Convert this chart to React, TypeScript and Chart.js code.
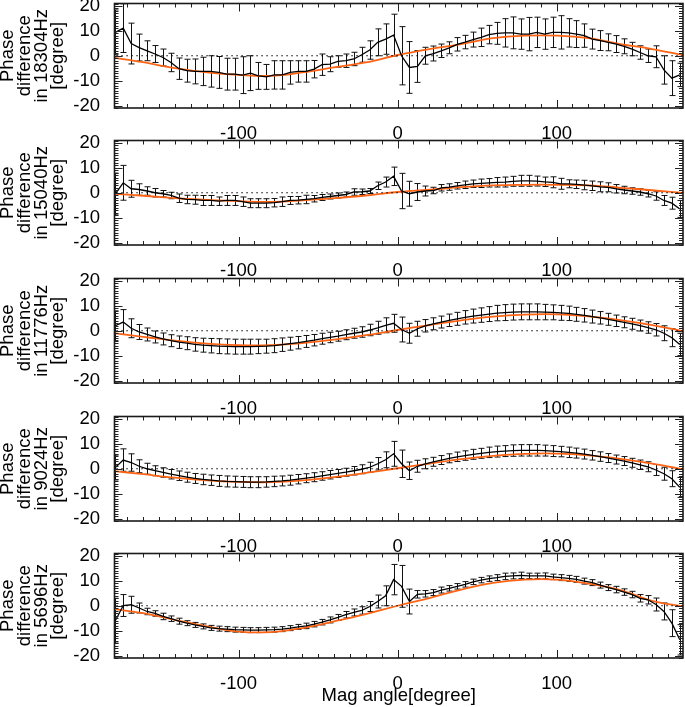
import React, { useEffect, useRef } from 'react';
import { Chart, registerables } from 'chart.js';

Chart.register(...registerables);

// ---------- data ----------
const ANGLES = [
  -177.5, -172.5, -167.5, -162.5, -157.5, -152.5, -147.5, -142.5, -137.5, -132.5, -127.5, -122.5,
  -117.5, -112.5, -107.5, -102.5, -97.5, -92.5, -87.5, -82.5, -77.5, -72.5, -67.5, -62.5,
  -57.5, -52.5, -47.5, -42.5, -37.5, -32.5, -27.5, -22.5, -17.5, -12.5, -7.5, -2.5,
  2.5, 7.5, 12.5, 17.5, 22.5, 27.5, 32.5, 37.5, 42.5, 47.5, 52.5, 57.5,
  62.5, 67.5, 72.5, 77.5, 82.5, 87.5, 92.5, 97.5, 102.5, 107.5, 112.5, 117.5,
  122.5, 127.5, 132.5, 137.5, 142.5, 147.5, 152.5, 157.5, 162.5, 167.5, 172.5, 177.5,
];
const FIT_ANGLES = [-180, -160, -140, -120, -100, -80, -60, -40, -20, 0, 20, 40, 60, 80, 100, 120, 140, 160, 180];
const X_TICKS = [-100, 0, 100];
const Y_TICKS = [-20, -10, 0, 10, 20];
const FREQUENCIES = ['18304Hz', '15040Hz', '11776Hz', '9024Hz', '5696Hz'];
const X_TITLE = 'Mag angle[degree]';
const ZERO_LINE_X = [-180, 180];
const ZERO_LINE_Y = [0, 0];

const PHASE_18304 = [
  9.4, 11.1, 4.9, 3.3, 2.0, 0.7, -0.7, -2.7, -5.2, -6.0, -6.3, -6.3,
  -6.3, -6.7, -7.4, -7.4, -7.8, -7.0, -8.1, -8.5, -7.7, -7.7, -6.7, -6.3,
  -6.3, -5.4, -3.6, -3.4, -2.3, -2.0, -1.3, 0.4, 2.3, 5.4, 6.7, 8.3,
  0.0, -4.7, -4.3, 0.0, 0.9, 2.0, 3.2, 4.6, 5.5, 6.5, 7.4, 8.5,
  9.0, 9.2, 9.2, 8.7, 8.7, 9.4, 8.7, 9.4, 9.4, 9.2, 8.7, 8.1,
  6.7, 6.1, 5.4, 4.7, 3.8, 2.7, 1.3, 0.0, -0.4, -5.7, -9.0, -7.7,
];
const ERR_18304 = [
  9.0, 9.8, 8.2, 5.4, 4.0, 3.4, 3.4, 3.7, 4.3, 4.6, 5.0, 5.7,
  6.3, 6.4, 6.4, 6.4, 7.4, 7.0, 5.4, 5.0, 5.7, 5.7, 4.7, 4.3,
  4.3, 3.5, 4.3, 3.0, 2.3, 2.7, 2.7, 3.0, 3.7, 5.4, 6.1, 8.4,
  11.7, 10.4, 6.4, 3.4, 3.0, 2.7, 2.4, 2.7, 2.7, 3.0, 3.7, 3.7,
  4.4, 5.7, 6.4, 6.1, 6.7, 6.1, 6.1, 6.1, 6.7, 5.7, 5.4, 4.7,
  4.0, 4.0, 3.4, 3.4, 3.0, 2.7, 2.7, 2.7, 4.4, 5.7, 7.0, 4.7,
];
const FIT_18304 = [-0.6, -2.6, -5.0, -6.7, -7.7, -8.1, -6.7, -4.7, -2.7, 0.3, 2.7, 4.7, 7.1, 8.1, 8.1, 7.1, 4.7, 2.7, 0.2];

const PHASE_15040 = [
  -0.5, 4.0, 1.6, 1.3, 0.7, 0.0, -0.4, -1.1, -2.2, -2.7, -2.8, -3.1,
  -3.1, -3.4, -3.1, -3.1, -3.6, -4.2, -4.2, -4.2, -4.0, -3.6, -3.1, -3.0,
  -2.7, -2.4, -1.9, -1.5, -1.1, -0.7, 0.3, 0.4, 0.7, 2.8, 4.3, 6.6,
  0.7, -0.4, 0.3, 0.7, 0.9, 2.0, 2.3, 2.8, 3.2, 3.6, 3.8, 4.0,
  4.2, 4.3, 4.6, 4.8, 4.8, 4.7, 4.4, 4.2, 3.6, 3.6, 3.4, 3.1,
  2.8, 2.4, 2.2, 1.6, 1.1, 0.7, 0.3, -0.4, -1.3, -3.1, -4.2, -6.5,
];
const ERR_15040 = [
  8.4, 7.0, 3.4, 2.3, 1.7, 1.7, 1.3, 1.3, 1.7, 1.7, 1.8, 2.0,
  2.0, 1.7, 2.0, 2.0, 1.9, 1.8, 1.8, 1.8, 1.7, 1.9, 1.6, 1.5,
  1.7, 1.3, 1.2, 1.0, 1.0, 1.0, 1.3, 1.1, 1.0, 1.5, 2.0, 3.7,
  7.1, 5.0, 3.4, 2.0, 1.3, 1.3, 1.3, 1.3, 1.5, 1.5, 1.7, 1.7,
  1.9, 2.0, 2.0, 2.2, 2.2, 2.0, 1.9, 2.2, 2.2, 1.6, 1.7, 1.9,
  1.9, 2.0, 1.8, 1.7, 1.5, 1.3, 1.3, 1.3, 1.7, 2.0, 2.4, 3.4,
];
const FIT_15040 = [-0.4, -1.2, -2.2, -2.9, -3.4, -3.7, -3.1, -2.2, -1.1, 0.3, 1.2, 2.3, 3.0, 3.2, 3.2, 3.0, 2.0, 1.0, -0.1];

const PHASE_11776 = [
  2.0, 3.5, 1.0, -0.5, -1.5, -2.5, -3.3, -4.0, -4.6, -5.0, -5.5, -5.8,
  -6.0, -6.2, -6.3, -6.4, -6.4, -6.4, -6.3, -6.2, -6.0, -5.6, -5.2, -4.8,
  -4.3, -3.8, -3.2, -2.7, -2.2, -1.6, -1.0, -0.5, 0.3, 1.2, 2.2, 3.0,
  0.5, -1.0, 0.8, 2.0, 2.8, 3.5, 4.2, 4.8, 5.4, 5.9, 6.3, 6.7,
  7.1, 7.3, 7.5, 7.6, 7.6, 7.6, 7.5, 7.4, 7.2, 7.0, 6.6, 6.2,
  5.7, 5.2, 4.6, 4.0, 3.4, 2.8, 2.1, 1.3, 0.4, -1.0, -2.8, -5.5,
];
const ERR_11776 = [
  6.0, 5.0, 3.8, 3.0, 2.6, 2.4, 2.4, 2.4, 2.5, 2.6, 2.7, 2.8,
  2.9, 3.0, 3.0, 3.0, 3.0, 3.0, 2.9, 2.8, 2.8, 2.7, 2.6, 2.5,
  2.4, 2.3, 2.2, 2.1, 2.0, 2.0, 2.0, 2.1, 2.3, 2.6, 3.0, 3.6,
  5.0, 4.0, 3.0, 2.5, 2.4, 2.4, 2.5, 2.6, 2.7, 2.8, 2.9, 3.0,
  3.1, 3.2, 3.2, 3.2, 3.2, 3.2, 3.1, 3.0, 3.0, 2.9, 2.8, 2.7,
  2.6, 2.5, 2.4, 2.3, 2.2, 2.2, 2.2, 2.3, 2.5, 3.0, 3.6, 4.5,
];
const FIT_11776 = [-0.8, -2.5, -4.0, -5.2, -5.8, -5.8, -5.0, -3.6, -1.8, 0.3, 2.3, 4.2, 5.7, 6.5, 6.6, 5.8, 4.3, 2.3, -0.2];

const PHASE_9024 = [
  0.5, 3.5, 2.5, 1.0, 0.0, -0.8, -1.5, -2.2, -2.8, -3.4, -3.9, -4.3,
  -4.6, -4.9, -5.1, -5.2, -5.3, -5.4, -5.4, -5.3, -5.1, -4.9, -4.6, -4.2,
  -3.8, -3.4, -2.9, -2.4, -1.9, -1.4, -0.8, -0.2, 0.6, 2.0, 3.6, 6.0,
  2.0, -0.8, 1.0, 2.0, 2.8, 3.5, 4.2, 4.8, 5.3, 5.8, 6.2, 6.6,
  6.9, 7.1, 7.3, 7.4, 7.4, 7.4, 7.3, 7.1, 6.9, 6.6, 6.3, 5.9,
  5.4, 4.9, 4.3, 3.7, 3.1, 2.4, 1.6, 0.8, -0.5, -2.0, -4.0, -7.5,
];
const ERR_9024 = [
  5.0, 4.5, 3.5, 2.6, 2.2, 2.0, 1.9, 1.9, 1.9, 2.0, 2.0, 2.1,
  2.1, 2.2, 2.2, 2.2, 2.2, 2.2, 2.2, 2.1, 2.1, 2.0, 2.0, 1.9,
  1.8, 1.8, 1.7, 1.7, 1.6, 1.6, 1.7, 1.8, 2.0, 2.5, 3.2, 5.0,
  5.5, 3.5, 2.4, 2.0, 1.8, 1.8, 1.8, 1.9, 1.9, 2.0, 2.0, 2.1,
  2.2, 2.2, 2.3, 2.3, 2.3, 2.3, 2.2, 2.2, 2.1, 2.1, 2.0, 2.0,
  1.9, 1.9, 1.8, 1.8, 1.8, 1.8, 1.9, 2.0, 2.2, 2.6, 3.2, 4.0,
];
const FIT_9024 = [-0.8, -2.2, -3.6, -4.7, -5.3, -5.4, -4.7, -3.4, -1.7, 0.2, 2.1, 3.9, 5.2, 6.0, 6.1, 5.4, 4.0, 2.1, -0.3];

const PHASE_5696 = [
  -6.0, 0.1, 0.4, -0.9, -2.3, -3.1, -4.3, -5.2, -6.2, -7.0, -7.7, -8.3,
  -8.9, -9.2, -9.4, -9.6, -9.7, -9.8, -9.8, -9.7, -9.6, -9.4, -9.0, -8.5,
  -8.1, -7.4, -6.6, -5.7, -4.7, -3.6, -2.7, -1.9, -0.3, 1.7, 4.0, 10.5,
  7.8, 1.7, 4.6, 4.8, 5.3, 6.3, 7.0, 7.8, 8.6, 9.6, 10.3, 10.9,
  11.3, 11.8, 12.0, 12.2, 12.0, 12.0, 12.0, 11.6, 11.3, 11.0, 10.6, 9.9,
  9.3, 8.3, 7.3, 6.5, 5.5, 4.5, 3.0, 2.4, 0.5, -2.3, -7.0, -13.7,
];
const ERR_5696 = [
  9.0, 4.4, 3.4, 2.0, 1.3, 1.1, 1.3, 1.1, 1.2, 1.0, 1.0, 1.0,
  1.0, 1.0, 1.0, 1.0, 1.0, 1.0, 1.0, 1.0, 1.0, 1.0, 1.0, 1.0,
  1.1, 1.1, 1.1, 1.2, 1.2, 1.3, 1.4, 1.5, 2.0, 2.6, 4.0, 6.1,
  8.4, 5.0, 1.5, 1.3, 1.2, 1.2, 1.1, 1.1, 1.1, 1.1, 1.1, 1.1,
  1.2, 1.3, 1.2, 1.3, 1.1, 1.1, 1.2, 1.1, 1.2, 1.2, 1.2, 1.2,
  1.2, 1.2, 1.2, 1.3, 1.3, 1.3, 1.5, 1.7, 2.6, 3.4, 5.4, 6.1,
];
const FIT_5696 = [-1.2, -3.0, -5.7, -8.3, -10.4, -10.6, -9.0, -6.3, -3.4, 0.0, 3.1, 6.5, 9.2, 10.5, 10.5, 8.9, 6.3, 2.0, -0.3];

const PANELS = [
  { freq: FREQUENCIES[0], values: PHASE_18304, errors: ERR_18304, fit: FIT_18304 },
  { freq: FREQUENCIES[1], values: PHASE_15040, errors: ERR_15040, fit: FIT_15040 },
  { freq: FREQUENCIES[2], values: PHASE_11776, errors: ERR_11776, fit: FIT_11776 },
  { freq: FREQUENCIES[3], values: PHASE_9024, errors: ERR_9024, fit: FIT_9024 },
  { freq: FREQUENCIES[4], values: PHASE_5696, errors: ERR_5696, fit: FIT_5696 },
];

// ---------- layout ----------
const FONT = "'Liberation Sans', Arial, Helvetica, sans-serif";
const FONT_SIZE = 18.5;
const CANVAS_W = 685;
const PAD_TOP = 10.5;
const BOX_H = 104;
const BOX_LEFT = 114.5;
const PAD_RIGHT = 2;
const CANVAS_TOPS = [-7, 130, 268, 406, 543];
const BOTTOM_H = [31, 31, 31, 31, 50];

const idlPlugin = {
  id: 'idl',
  beforeDatasetsDraw(chart: any, _args: any, opts: any) {
    const { ctx, chartArea: a, scales } = chart;
    const xs = scales.x, ys = scales.y;
    ctx.save();
    ctx.beginPath();
    ctx.rect(a.left, a.top, a.right - a.left, a.bottom - a.top);
    ctx.clip();
    ctx.strokeStyle = '#111';
    ctx.lineWidth = 1;
    ctx.beginPath();
    const vals: number[] = opts.values, errs: number[] = opts.errors, angs: number[] = opts.angles;
    for (let i = 0; i < vals.length; i++) {
      const px = Math.round(xs.getPixelForValue(angs[i])) + 0.5;
      const t = ys.getPixelForValue(vals[i] + errs[i]);
      const b = ys.getPixelForValue(vals[i] - errs[i]);
      ctx.moveTo(px, t); ctx.lineTo(px, b);
      ctx.moveTo(px - 3, t); ctx.lineTo(px + 3, t);
      ctx.moveTo(px - 3, b); ctx.lineTo(px + 3, b);
    }
    ctx.stroke();
    ctx.restore();
  },
  afterDraw(chart: any) {
    const { ctx, chartArea: a, scales } = chart;
    const xs = scales.x, ys = scales.y;
    ctx.save();
    ctx.strokeStyle = '#222';
    ctx.lineWidth = 1;
    ctx.beginPath();
    for (let v = -170; v <= 170; v += 10) {
      const px = Math.round(xs.getPixelForValue(v)) + 0.5;
      const len = v % 100 === 0 ? 8 : 4;
      ctx.moveTo(px, a.bottom); ctx.lineTo(px, a.bottom - len);
      ctx.moveTo(px, a.top); ctx.lineTo(px, a.top + len);
    }
    for (let v = -21; v <= 21; v += 1) {
      const py = Math.round(ys.getPixelForValue(v)) + 0.5;
      const len = v % 10 === 0 ? 8 : 4;
      ctx.moveTo(a.left, py); ctx.lineTo(a.left + len, py);
      ctx.moveTo(a.right, py); ctx.lineTo(a.right - len, py);
    }
    ctx.stroke();
    ctx.lineWidth = 1.6;
    ctx.strokeStyle = '#1a1a1a';
    ctx.strokeRect(a.left, a.top, a.right - a.left, a.bottom - a.top);
    ctx.restore();
  },
};

function Panel({ idx }: { idx: number }) {
  const ref = useRef<HTMLCanvasElement | null>(null);
  const p = PANELS[idx];
  const h = Math.round(PAD_TOP + BOX_H + BOTTOM_H[idx]);
  const last = idx === PANELS.length - 1;

  useEffect(() => {
    if (!ref.current) return;
    const chart = new Chart(ref.current, {
      type: 'line',
      data: {
        datasets: [
          {
            data: ZERO_LINE_X.map((x, i) => ({ x, y: ZERO_LINE_Y[i] })),
            borderColor: '#000',
            borderWidth: 1,
            borderDash: [1.5, 3.5],
            pointRadius: 0,
            tension: 0,
          },
          {
            data: ANGLES.map((x, i) => ({ x, y: p.values[i] })),
            borderColor: '#000',
            borderWidth: 1.3,
            pointRadius: 0,
            tension: 0,
          },
          {
            data: FIT_ANGLES.map((x, i) => ({ x, y: p.fit[i] })),
            borderColor: '#ff6414',
            borderWidth: 1.8,
            pointRadius: 0,
            tension: 0.4,
          },
        ],
      },
      options: {
        animation: false,
        responsive: false,
        devicePixelRatio: 1,
        events: [],
        layout: { padding: { top: PAD_TOP, right: PAD_RIGHT, left: 0, bottom: 0 } },
        plugins: {
          legend: { display: false },
          tooltip: { enabled: false },
          idl: { values: p.values, errors: p.errors, angles: ANGLES },
        } as any,
        scales: {
          x: {
            type: 'linear',
            min: -178,
            max: 179.5,
            grid: { display: false },
            border: { display: false },
            afterBuildTicks: (s: any) => { s.ticks = X_TICKS.map((v) => ({ value: v })); },
            afterFit: (s: any) => { s.height = BOTTOM_H[idx]; s.paddingLeft = 0; s.paddingRight = 0; },
            ticks: {
              autoSkip: false,
              maxRotation: 0,
              padding: 7,
              color: '#000',
              font: { family: FONT, size: FONT_SIZE },
              callback: (v: any) => String(v),
            },
            title: {
              display: last,
              text: X_TITLE,
              color: '#000',
              padding: { top: 0, bottom: 1 },
              font: { family: FONT, size: FONT_SIZE },
            },
          },
          y: {
            type: 'linear',
            min: -21,
            max: 21,
            grid: { display: false },
            border: { display: false },
            afterBuildTicks: (s: any) => { s.ticks = Y_TICKS.map((v) => ({ value: v })); },
            afterFit: (s: any) => { s.width = BOX_LEFT; s.paddingTop = 0; s.paddingBottom = 0; },
            ticks: {
              autoSkip: false,
              padding: 6.5,
              color: '#000',
              font: { family: FONT, size: FONT_SIZE },
              callback: (v: any) => String(v),
            },
            title: {
              display: true,
              text: ['Phase', 'difference', 'in ' + p.freq, '[degree]'],
              color: '#000',
              padding: { top: 0, bottom: 0 },
              font: { family: FONT, size: FONT_SIZE, lineHeight: 0.9 },
            },
          },
        },
      },
      plugins: [idlPlugin as any],
    });
    return () => chart.destroy();
  }, [idx]);

  return (
    <canvas
      ref={ref}
      width={CANVAS_W}
      height={h}
      style={{ position: 'absolute', left: 0, top: CANVAS_TOPS[idx], width: CANVAS_W, height: h }}
    />
  );
}

export default function App() {
  return (
    <div style={{ position: 'absolute', left: 0, top: 0, width: CANVAS_W, height: 707, overflow: 'hidden', background: '#fff' }}>
      {PANELS.map((_, i) => (
        <Panel key={i} idx={i} />
      ))}
    </div>
  );
}
